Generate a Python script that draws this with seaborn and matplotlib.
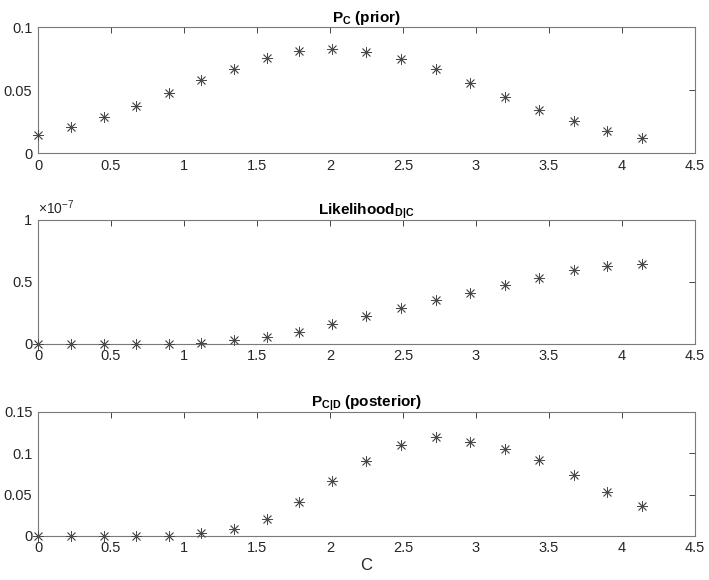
import numpy as np
import pandas as pd
import matplotlib
matplotlib.use('Agg')
import matplotlib.pyplot as plt
import seaborn as sns

# values
c_vals = [0, 0.225, 0.45, 0.67, 0.895, 1.12, 1.345, 1.57, 1.79, 2.015,
          2.25, 2.49, 2.73, 2.96, 3.2, 3.43, 3.67, 3.9, 4.14]
prior = [0.0146, 0.0206, 0.0286, 0.0376, 0.0476, 0.058, 0.0672, 0.0754, 0.081, 0.0825,
         0.0807, 0.0749, 0.0667, 0.056, 0.0447, 0.0344, 0.0254, 0.0172, 0.0122]
# likelihood in units of 1e-7
likelihood = [0.0, 0.0, 0.0, 0.0, 0.001, 0.008, 0.03, 0.054, 0.10, 0.16,
              0.226, 0.293, 0.355, 0.414, 0.473, 0.535, 0.597, 0.626, 0.645]
posterior = [0.0, 0.0, 0.0, 0.0, 0.0002, 0.003, 0.0085, 0.021, 0.0407, 0.0665,
             0.0911, 0.1097, 0.119, 0.114, 0.1056, 0.0915, 0.0734, 0.0536, 0.0359]

titles = [r'$\mathbf{P_C}$ (prior)', r'$\mathbf{Likelihood_{D|C}}$',
          r'$\mathbf{P_{C|D}}$ (posterior)']
ylims = [(0, 0.1), (0, 1), (0, 0.15)]
yticks = [[0, 0.05, 0.1], [0, 0.5, 1], [0, 0.05, 0.1, 0.15]]
yticklabels = [['0', '0.05', '0.1'], ['0', '0.5', '1'], ['0', '0.05', '0.1', '0.15']]
xticks = [0, 0.5, 1, 1.5, 2, 2.5, 3, 3.5, 4, 4.5]
xticklabels = ['0', '0.5', '1', '1.5', '2', '2.5', '3', '3.5', '4', '4.5']

sns.set_style('white')
plt.rcParams['font.family'] = ['Liberation Sans', 'DejaVu Sans']
plt.rcParams['mathtext.fontset'] = 'custom'
plt.rcParams['mathtext.rm'] = 'Liberation Sans'
plt.rcParams['mathtext.bf'] = 'Liberation Sans:bold'
plt.rcParams['mathtext.it'] = 'Liberation Sans:italic'

fig = plt.figure(figsize=(7.09, 5.8), dpi=100)
rects = [[0.0536, 0.736, 0.9264, 0.217],
         [0.0536, 0.407, 0.9264, 0.214],
         [0.0536, 0.076, 0.9264, 0.214]]
series = [prior, likelihood, posterior]
edge = '#262626'
mark = '#4a4a4a'

for i, (rect, ys) in enumerate(zip(rects, series)):
    ax = fig.add_axes(rect)
    df = pd.DataFrame({'C': c_vals, 'val': ys})
    sns.scatterplot(data=df, x='C', y='val', ax=ax, marker=(8, 2, 0),
                    s=55, color=mark, linewidth=0.6, edgecolor=mark,
                    clip_on=False, zorder=3)
    ax.set_xlim(0, 4.5)
    ax.set_ylim(*ylims[i])
    ax.set_xticks(xticks)
    ax.set_xticklabels(xticklabels)
    ax.set_yticks(yticks[i])
    ax.set_yticklabels(yticklabels[i])
    ax.tick_params(direction='in', length=4, width=0.6, top=True, right=True,
                   labelsize=10.5, colors=edge, pad=4)
    for sp in ax.spines.values():
        sp.set_color('#7a7a7a')
        sp.set_linewidth(0.8)
    ax.set_title(titles[i], fontsize=11, fontweight='bold', pad=4, color='black')
    ax.set_ylabel('')
    ax.set_xlabel('C' if i == 2 else '', fontsize=12, color=edge, labelpad=2)
    if i == 1:
        ax.text(0, 1.02, r'$\times10^{-7}$', transform=ax.transAxes,
                ha='left', va='bottom', fontsize=10, color=edge)

fig.savefig('out.png', dpi=100)
